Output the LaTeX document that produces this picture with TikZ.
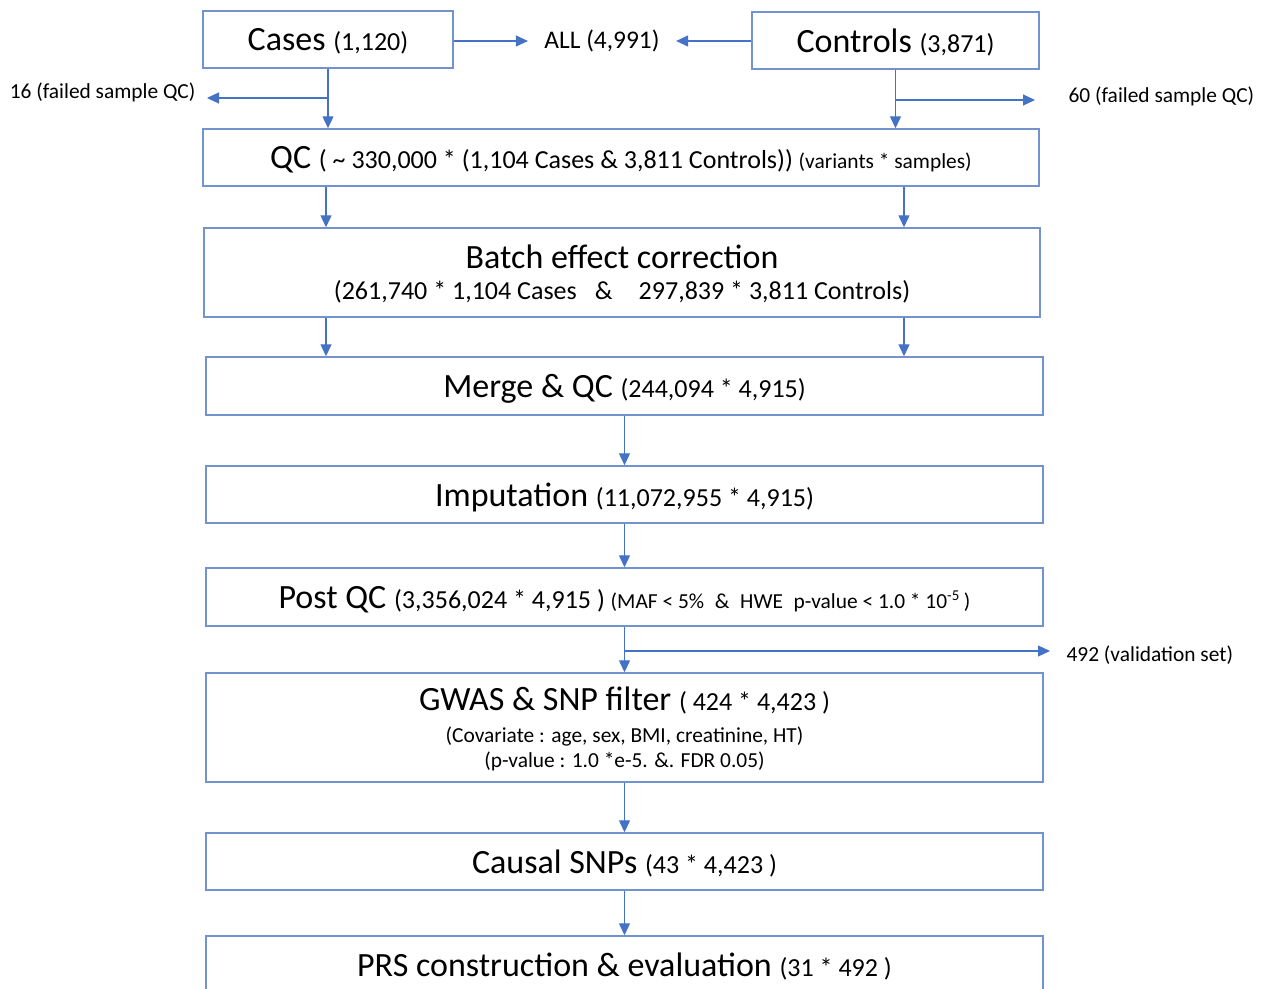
\documentclass[tikz,border=0pt]{standalone}
\usepackage{fontspec}
\setmainfont{Carlito}
\usetikzlibrary{arrows.meta}
\definecolor{boxblue}{RGB}{114,147,205}
\definecolor{lineblue}{RGB}{68,114,196}
\newcommand{\boxtitle}{\fontsize{17}{20}\selectfont}
\newcommand{\boxcount}{\fontsize{13}{15}\selectfont}
\newcommand{\boxnote}{\fontsize{10.7}{12.5}\selectfont}
\tikzset{
  stagebox/.style={draw=boxblue, line width=0.7pt, minimum width=418.5pt,
    minimum height=28.5pt, inner sep=0pt, text depth=0pt, align=center},
  sidelabel/.style={font=\boxnote, inner ysep=0pt},
}

\begin{document}
\begin{tikzpicture}[x=0.5pt,y=-0.5pt,>={Triangle[length=6pt,width=5.5pt]},line width=0.6pt]
  \useasboundingbox (0,0) rectangle (1265,989);
  \node[stagebox, minimum width=125pt]   (cases)    at (328,39.5)    {\boxtitle Cases \boxcount (1,120)};
  \node[stagebox, minimum width=143.5pt] (controls) at (895.5,40.5)  {\boxtitle Controls \boxcount (3,871)};
  \node[font=\fontsize{12.7}{15}\selectfont, inner xsep=8pt] (all) at (602,41) {ALL (4,991)};
  \node[sidelabel, anchor=east, inner xsep=5.5pt]  (failcases)    at (207,92)  {16 (failed sample QC)};
  \node[sidelabel, anchor=west, inner xsep=16.5pt] (failcontrols) at (1035,96) {60 (failed sample QC)};

  \node[stagebox, minimum width=418pt] (qc) at (621,157.5)
    {\boxtitle QC \boxcount ( \textasciitilde{} 330,000 * (1,104 Cases \& 3,811 Controls)) \boxnote (variants * samples)};
  \node[stagebox, minimum width=418pt, minimum height=44.5pt] (batch) at (622,272.5)
    {\boxtitle Batch effect correction\\[3.5pt]
     \boxcount (261,740 * 1,104 Cases\hspace{0.7em}\&\hspace{1em}297,839 * 3,811 Controls)};
  \node[stagebox, minimum height=29pt] (merge) at (624.5,386)
    {\boxtitle Merge \& QC \boxcount (244,094 * 4,915)};
  \node[stagebox] (imput) at (624.5,494.5)
    {\boxtitle Imputation \boxcount (11,072,955 * 4,915)};
  \node[stagebox, minimum height=29pt] (postqc) at (624.5,597)
    {\boxtitle Post QC \boxcount (3,356,024 * 4,915 ) \boxnote (MAF < 5\%\enspace\&\enspace HWE\enspace p-value < 1.0 * 10\textsuperscript{-5}\,)};
  \node[sidelabel, anchor=west, inner xsep=8pt] (validset) at (1050,655) {492 (validation set)};
  \node[stagebox, minimum height=54.5pt] (gwas) at (624.5,727.5)
    {\boxtitle GWAS \& SNP filter \boxcount ( 424 * 4,423 )\\[4pt]
     \boxnote (Covariate : age, sex, BMI, creatinine, HT)\\[0.5pt]
     \boxnote (p-value : 1.0 *e-5. \&. FDR 0.05)};
  \node[stagebox] (causal) at (624.5,861.5)
    {\boxtitle Causal SNPs \boxcount (43 * 4,423 )};
  \node[stagebox] (prs) at (624.5,964.5)
    {\boxtitle PRS construction \& evaluation \boxcount (31 * 492 )};

  \coordinate (casesplit)  at (328,98);
  \coordinate (ctrlsplit)  at (896,100);
  \coordinate (validsplit) at (624.5,651);
  \coordinate (leftlane)   at (326,0);
  \coordinate (rightlane)  at (904,0);

  \path[->, lineblue]
    (cases.east |- all) edge (all.west)
    (controls.west |- all) edge (all.east)
    (cases) edge (cases |- qc.north)
    (controls) edge (controls |- qc.north)
    (casesplit) edge (casesplit -| failcases.east)
    (ctrlsplit) edge (ctrlsplit -| failcontrols.west)
    (qc.south -| leftlane) edge (batch.north -| leftlane)
    (qc.south -| rightlane) edge (batch.north -| rightlane)
    (batch.south -| leftlane) edge (merge.north -| leftlane)
    (batch.south -| rightlane) edge (merge.north -| rightlane)
    (merge) edge (imput)
    (imput) edge (postqc)
    (postqc) edge (gwas)
    (validsplit) edge (validsplit -| validset.west)
    (gwas) edge (causal)
    (causal) edge (prs)
  ;
\end{tikzpicture}
\end{document}
